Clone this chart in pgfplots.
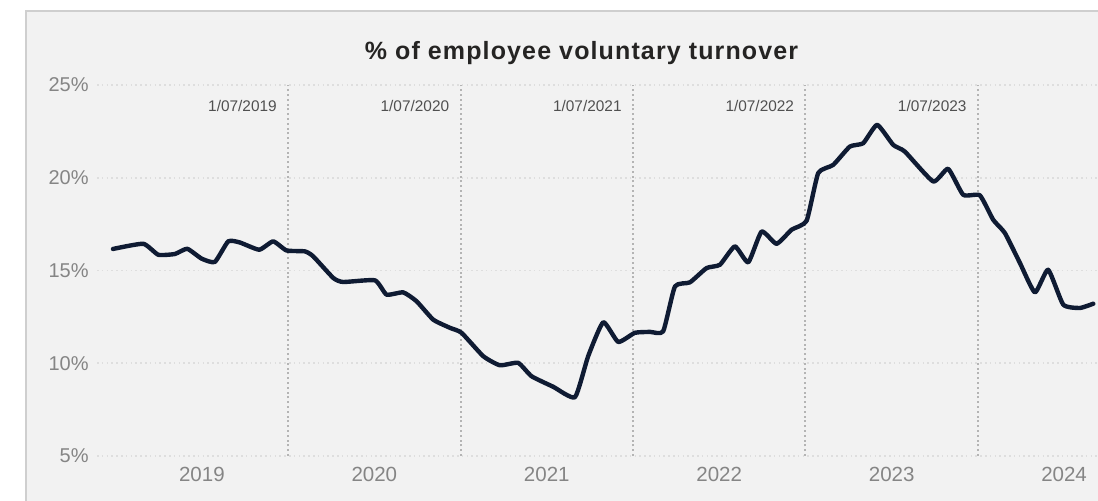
\documentclass[border=0pt]{standalone}
\usepackage{fontspec}
\setmainfont{Liberation Sans}
\usepackage{pgfplots}
\pgfplotsset{compat=1.18}
\definecolor{panel}{HTML}{F2F2F2}
\definecolor{bordercol}{HTML}{CFCFCF}
\definecolor{titlecol}{HTML}{252423}
\definecolor{tickcol}{HTML}{858585}
\definecolor{datecol}{HTML}{505050}
\definecolor{hgrid}{HTML}{DEDEDE}
\definecolor{vgrid}{HTML}{B4B4B4}
\definecolor{linecol}{HTML}{0F1B33}
\pgfplotstableread{
m v
-6.19 16.16
-4.08 16.44
-3.04 15.85
-1.88 15.89
-1.02 16.17
-0.02 15.64
0.90 15.46
1.83 16.57
2.64 16.51
3.99 16.12
4.96 16.57
5.89 16.08
7.17 16.03
7.75 15.76
9.14 14.60
9.83 14.38
12.04 14.47
12.85 13.70
14.01 13.82
14.94 13.34
16.10 12.35
17.26 11.91
18.07 11.64
19.58 10.38
20.74 9.89
22.01 10.02
22.94 9.30
24.45 8.73
25.96 8.17
26.88 10.38
27.93 12.21
28.97 11.15
30.13 11.64
31.18 11.69
32.10 11.72
32.92 14.14
33.96 14.36
35.12 15.13
36.05 15.31
37.09 16.30
38.02 15.44
38.95 17.10
39.99 16.44
41.04 17.20
42.08 17.68
42.89 20.25
43.93 20.69
45.09 21.68
46.02 21.86
46.99 22.85
48.11 21.77
48.92 21.41
50.89 19.80
51.93 20.48
52.98 19.08
54.14 19.05
55.07 17.73
55.88 17.02
56.93 15.40
57.97 13.82
58.89 15.04
59.94 13.16
61.10 12.98
62.03 13.21
}\turnover
\begin{document}
\begin{tikzpicture}
\useasboundingbox (0pt,0pt) rectangle (549pt,250.5pt);
\fill[white] (0pt,0pt) rectangle (549pt,250.5pt);
\fill[panel] (13pt,0pt) rectangle (549pt,245pt);
\draw[bordercol, line width=1pt] (13pt,0pt) -- (13pt,245pt) -- (549pt,245pt);
\node[anchor=base, text=titlecol, font=\fontsize{12.5}{15}\selectfont\bfseries, inner sep=0pt] at (290.75pt,220.5pt) {\addfontfeature{LetterSpace=4.5}\% of employee voluntary turnover};
\begin{axis}[
  at={(48.5pt,22.5pt)}, anchor=south west,
  scale only axis, width=500.5pt, height=185.5pt,
  xmin=-7.30, xmax=62.36, ymin=5, ymax=25,
  axis line style={draw=none}, tick style={draw=none}, major tick length=0pt,
  xtick={0,12,24,36,48,60},
  xticklabels={2019,2020,2021,2022,2023,2024},
  ytick={5,10,15,20,25},
  yticklabels={5\%,10\%,15\%,20\%,25\%},
  xticklabel style={font=\fontsize{10.25}{12}\selectfont, text=tickcol, inner sep=0pt, anchor=north, yshift=-5.5pt},
  yticklabel style={font=\fontsize{10}{12}\selectfont, text=tickcol, inner sep=0pt, anchor=east, xshift=-4pt},
  ymajorgrids,
  major grid style={color=hgrid, line width=0.8pt, dash pattern=on 0.8pt off 1.6pt},
  extra x ticks={6,18,30,42,54},
  extra x tick labels={},
  extra x tick style={grid=major, major grid style={color=vgrid, line width=1pt, dash pattern=on 1pt off 1.4pt}},
]
\addplot[linecol, line width=2.2pt, line join=round, line cap=round, smooth, tension=0.3] table[x=m, y=v] {\turnover};
\node[anchor=east, text=datecol, font=\fontsize{7.7}{9}\selectfont, inner sep=0pt] at (axis cs:6,23.87) [xshift=-5.5pt] {1/07/2019};
\node[anchor=east, text=datecol, font=\fontsize{7.7}{9}\selectfont, inner sep=0pt] at (axis cs:18,23.87) [xshift=-5.5pt] {1/07/2020};
\node[anchor=east, text=datecol, font=\fontsize{7.7}{9}\selectfont, inner sep=0pt] at (axis cs:30,23.87) [xshift=-5.5pt] {1/07/2021};
\node[anchor=east, text=datecol, font=\fontsize{7.7}{9}\selectfont, inner sep=0pt] at (axis cs:42,23.87) [xshift=-5.5pt] {1/07/2022};
\node[anchor=east, text=datecol, font=\fontsize{7.7}{9}\selectfont, inner sep=0pt] at (axis cs:54,23.87) [xshift=-5.5pt] {1/07/2023};
\end{axis}
\end{tikzpicture}
\end{document}
